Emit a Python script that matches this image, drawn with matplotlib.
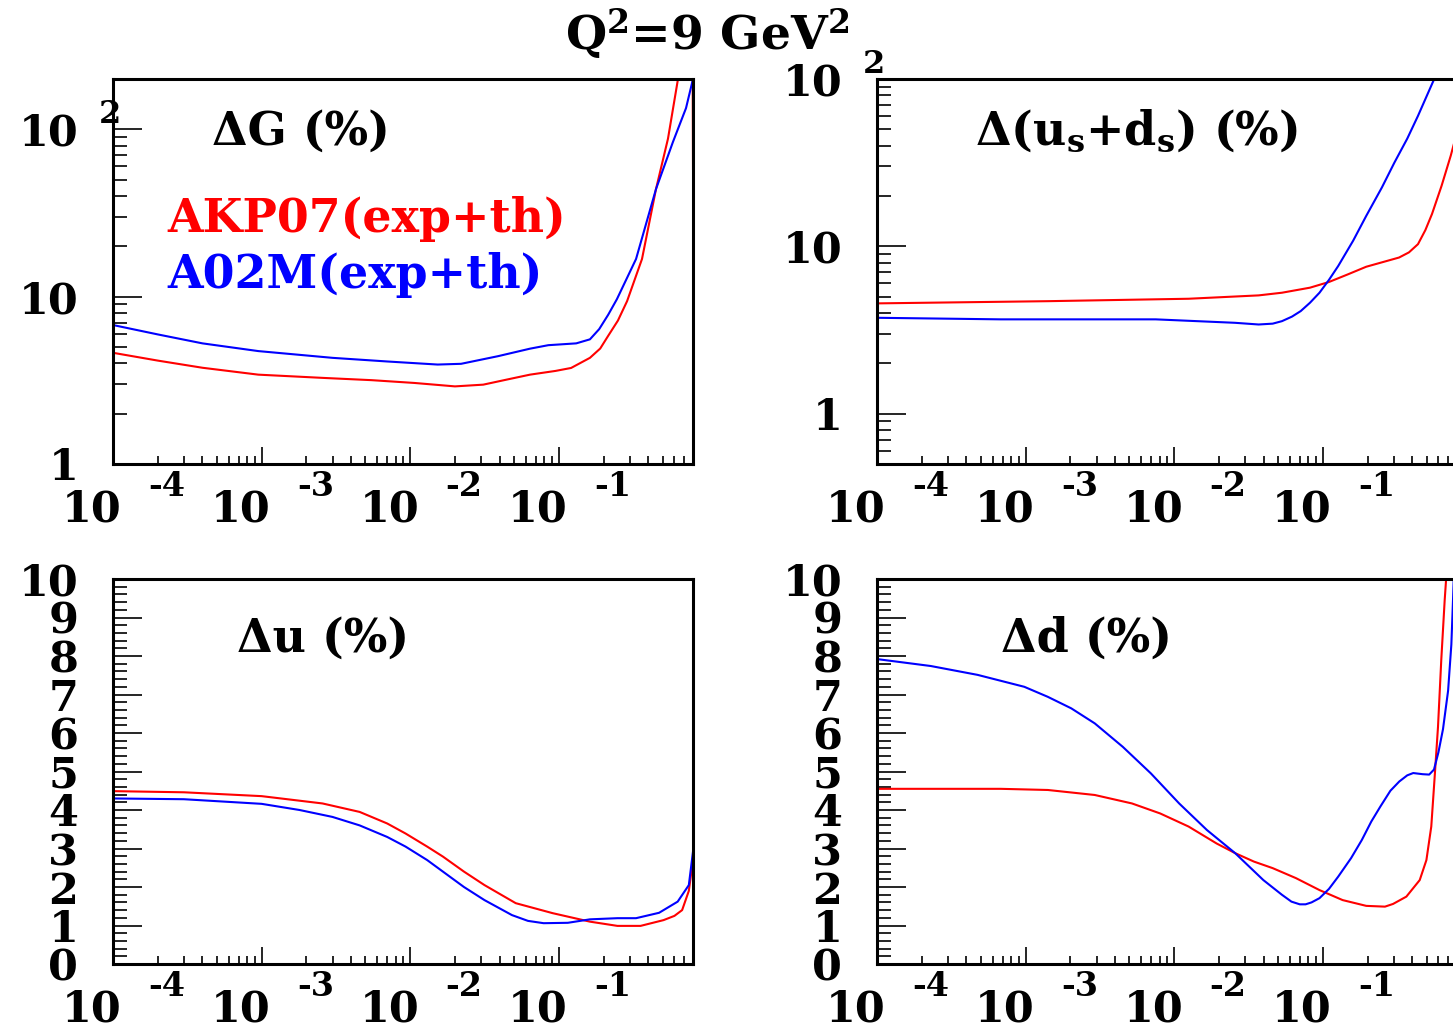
import numpy as np
import matplotlib as mpl
mpl.use('Agg')
import matplotlib.pyplot as plt
from matplotlib import ticker
from matplotlib.transforms import offset_copy

plt.rcParams['font.family'] = ['DejaVu Serif']
plt.rcParams['font.weight'] = 'bold'
plt.rcParams['mathtext.fontset'] = 'dejavuserif'
plt.rcParams['mathtext.default'] = 'bf'

RED = '#ff0000'
BLUE = '#0000ff'

# x axis decades and their exponent labels
xticks = [1e-4, 1e-3, 1e-2, 1e-1]
xexp = ['-4', '-3', '-2', '-1']

# Delta G (%)
dg_x_akp = [1e-4, 2.0e-4, 4.0e-4, 9.5e-4, 2.6e-3, 5.5e-3, 1.07e-2, 2.0e-2, 3.1e-2, 4.5e-2,
            6.4e-2, 0.095, 0.121, 0.162, 0.19, 0.214, 0.25, 0.288, 0.363, 0.451,
            0.543, 0.634, 0.79, 0.8]
dg_akp = [4.62, 4.15, 3.76, 3.42, 3.27, 3.17, 3.05, 2.91, 2.98, 3.2,
          3.42, 3.6, 3.75, 4.31, 4.9, 5.8, 7.2, 9.4, 16.8, 44,
          88, 200, 2000, 58]
dg_x_a02 = [1e-4, 2.0e-4, 4.0e-4, 9.5e-4, 3.0e-3, 7.0e-3, 1.53e-2, 2.2e-2, 3.9e-2, 6.4e-2,
            8.5e-2, 0.131, 0.162, 0.187, 0.215, 0.246, 0.331, 0.451, 0.586, 0.718, 0.8]
dg_a02 = [6.77, 5.95, 5.26, 4.73, 4.31, 4.1, 3.93, 3.97, 4.41, 4.89,
          5.13, 5.26, 5.56, 6.4, 7.8, 9.66, 16.8, 44, 84, 134, 200]

# Delta(us+ds) (%)
sea_x_akp = [1e-4, 1.41e-3, 1.25e-2, 3.7e-2, 5.31e-2, 8.2e-2, 0.110, 0.147, 0.196, 0.26,
             0.326, 0.38, 0.437, 0.49, 0.543, 0.63, 0.726, 0.8]
sea_akp = [4.56, 4.70, 4.86, 5.09, 5.28, 5.66, 6.12, 6.79, 7.55, 8.1,
           8.57, 9.2, 10.3, 12.5, 15.6, 23, 34.8, 48]
sea_x_a02 = [1e-4, 6.8e-4, 7.5e-3, 2.57e-2, 3.7e-2, 4.6e-2, 5.31e-2, 6.2e-2, 7.1e-2, 8.2e-2,
             9.5e-2, 0.11, 0.127, 0.16, 0.196, 0.25, 0.303, 0.37, 0.437, 0.5, 0.562]
sea_a02 = [3.74, 3.66, 3.66, 3.49, 3.41, 3.45, 3.57, 3.8, 4.10, 4.6,
           5.28, 6.3, 7.63, 10.8, 15.2, 22.5, 31.6, 44, 60.2, 79, 100]

# Delta u (%)
du_x_akp = [1e-4, 3.0e-4, 1.0e-3, 2.57e-3, 4.57e-3, 7.0e-3, 9.3e-3, 1.3e-2, 1.66e-2, 2.3e-2,
            3.16e-2, 5.13e-2, 9.1e-2, 0.162, 0.248, 0.355, 0.507, 0.6, 0.676, 0.75, 0.8]
du_akp = [4.49, 4.46, 4.36, 4.17, 3.95, 3.65, 3.39, 3.05, 2.79, 2.4,
          2.05, 1.58, 1.32, 1.10, 0.99, 0.99, 1.14, 1.25, 1.40, 1.9, 2.70]
du_x_a02 = [1e-4, 3.0e-4, 1.0e-3, 1.8e-3, 3.0e-3, 4.57e-3, 7.0e-3, 9.3e-3, 1.3e-2, 1.66e-2,
            2.3e-2, 3.16e-2, 4.84e-2, 6.2e-2, 7.9e-2, 0.115, 0.162, 0.248, 0.331, 0.473,
            0.631, 0.75, 0.8]
du_a02 = [4.30, 4.28, 4.16, 4.0, 3.82, 3.6, 3.3, 3.05, 2.7, 2.40,
          2.0, 1.66, 1.27, 1.12, 1.06, 1.07, 1.16, 1.19, 1.19, 1.33,
          1.62, 2.05, 2.92]

# Delta d (%)
dd_x_akp = [1e-4, 6.8e-4, 1.41e-3, 2.92e-3, 5.2e-3, 8.05e-3, 1.25e-2, 1.93e-2, 2.57e-2, 3.44e-2,
            4.6e-2, 6.6e-2, 9.5e-2, 0.136, 0.196, 0.262, 0.297, 0.365, 0.449, 0.498,
            0.537, 0.566, 0.596, 0.627, 0.661, 0.676, 0.71]
dd_akp = [4.55, 4.55, 4.52, 4.39, 4.17, 3.91, 3.57, 3.13, 2.88, 2.66,
          2.49, 2.23, 1.92, 1.66, 1.51, 1.49, 1.56, 1.75, 2.18, 2.70,
          3.57, 4.86, 6.16, 7.9, 9.45, 10.0, 13.0]
dd_x_a02 = [1e-4, 2.3e-4, 4.75e-4, 9.8e-4, 1.41e-3, 2.03e-3, 2.92e-3, 4.51e-3, 6.97e-3, 1.08e-2,
            1.66e-2, 2.57e-2, 3.98e-2, 5.3e-2, 6.15e-2, 7.0e-2, 7.66e-2, 8.4e-2, 9.5e-2, 0.11,
            0.127, 0.155, 0.183, 0.212, 0.244, 0.285, 0.327, 0.37, 0.406, 0.47,
            0.52, 0.56, 0.60, 0.644, 0.697, 0.733, 0.752, 0.776]
dd_a02 = [7.92, 7.74, 7.51, 7.20, 6.94, 6.64, 6.25, 5.64, 4.95, 4.17,
          3.48, 2.88, 2.18, 1.8, 1.62, 1.55, 1.55, 1.6, 1.71, 1.95,
          2.27, 2.75, 3.22, 3.7, 4.09, 4.5, 4.74, 4.9, 4.96, 4.93,
          4.92, 5.05, 5.5, 6.1, 7.1, 8.3, 9.45, 11.0]

W, H = 1453., 1030.
FS = 31
LFS = 33


def panel(fig, left, top):
    return fig.add_axes([left/W, (H-top-385)/H, 580/W, 385/H])


def style(fig, ax, ylog, ylim, yticks, ylabels):
    for s in ax.spines.values():
        s.set_linewidth(2.2)
    ax.set_xscale('log')
    ax.set_xlim(1e-4, 0.8)
    ax.xaxis.set_major_locator(ticker.FixedLocator(xticks))
    ax.xaxis.set_minor_locator(ticker.LogLocator(base=10, subs=np.arange(2, 10)*1.0, numticks=50))
    ax.xaxis.set_major_formatter(ticker.NullFormatter())
    ax.xaxis.set_minor_formatter(ticker.NullFormatter())
    if ylog:
        ax.set_yscale('log')
        ax.yaxis.set_minor_locator(ticker.LogLocator(base=10, subs=np.arange(2, 10)*1.0, numticks=50))
    else:
        ax.yaxis.set_minor_locator(ticker.MultipleLocator(0.2))
    ax.set_ylim(ylim[0], ylim[1])
    ax.set_yticks(yticks)
    ax.set_yticklabels(ylabels)
    ax.yaxis.set_minor_formatter(ticker.NullFormatter())
    ax.tick_params(axis='x', which='major', direction='in', length=12.5, width=1.2, top=False)
    ax.tick_params(axis='x', which='minor', direction='in', length=6, width=1.2, top=False)
    ax.tick_params(axis='y', which='major', direction='in', length=21, width=1.2, right=False,
                   pad=25, labelsize=FS)
    ax.tick_params(axis='y', which='minor', direction='in', length=10, width=1.2, right=False)

    trans = ax.get_xaxis_transform()
    for t, e in zip(xticks, xexp):
        ax.text(t, 0, '10', transform=offset_copy(trans, fig=fig, x=-21, y=-57, units='dots'),
                ha='center', va='baseline', fontsize=FS, clip_on=False)
        ax.text(t, 0, e, transform=offset_copy(trans, fig=fig, x=54, y=-32, units='dots'),
                ha='center', va='baseline', fontsize=24, clip_on=False)
    if ylog:
        ax.text(0, 100, '2', transform=offset_copy(ax.get_yaxis_transform(), fig=fig, x=-3, y=6, units='dots'),
                ha='center', va='baseline', fontsize=23, clip_on=False)


def main():
    fig = plt.figure(figsize=(W/100, H/100), dpi=100)

    ax1 = panel(fig, 113, 79)
    style(fig, ax1, True, [1, 200], [1, 10, 100], ['1', '10', '10'])
    ax1.plot(dg_x_akp, dg_akp, color=RED, lw=1.5)
    ax1.plot(dg_x_a02, dg_a02, color=BLUE, lw=1.5)
    ax1.text(0.1707, 0.8286, 'ΔG (%)', transform=ax1.transAxes, fontsize=LFS, va='baseline')
    ax1.text(0.0931, 0.6026, 'AKP07(exp+th)', color=RED, transform=ax1.transAxes, fontsize=LFS, va='baseline')
    ax1.text(0.0931, 0.457, 'A02M(exp+th)', color=BLUE, transform=ax1.transAxes, fontsize=LFS, va='baseline')

    ax2 = panel(fig, 877, 79)
    style(fig, ax2, True, [0.5, 100], [1, 10, 100], ['1', '10', '10'])
    ax2.plot(sea_x_akp, sea_akp, color=RED, lw=1.5)
    ax2.plot(sea_x_a02, sea_a02, color=BLUE, lw=1.5)
    ax2.text(0.169, 0.8286, 'Δ(u$_{s}$+d$_{s}$) (%)', transform=ax2.transAxes, fontsize=LFS, va='baseline')

    lin_ticks = list(range(0, 11))
    lin_labels = [str(v) for v in lin_ticks]

    ax3 = panel(fig, 113, 579)
    style(fig, ax3, False, [0, 10], lin_ticks, lin_labels)
    ax3.plot(du_x_akp, du_akp, color=RED, lw=1.5)
    ax3.plot(du_x_a02, du_a02, color=BLUE, lw=1.5)
    ax3.text(0.2138, 0.8104, 'Δu (%)', transform=ax3.transAxes, fontsize=LFS, va='baseline')

    ax4 = panel(fig, 877, 579)
    style(fig, ax4, False, [0, 10], lin_ticks, lin_labels)
    ax4.plot(dd_x_akp, dd_akp, color=RED, lw=1.5)
    ax4.plot(dd_x_a02, dd_a02, color=BLUE, lw=1.5)
    ax4.text(0.2138, 0.8104, 'Δd (%)', transform=ax4.transAxes, fontsize=LFS, va='baseline')

    fig.text(707/W, (H-50)/H, 'Q$^{2}$=9 GeV$^{2}$', ha='center', va='baseline', fontsize=34)

    fig.savefig('out.png', dpi=100)
    plt.close()


if __name__ == "__main__":
    main()
